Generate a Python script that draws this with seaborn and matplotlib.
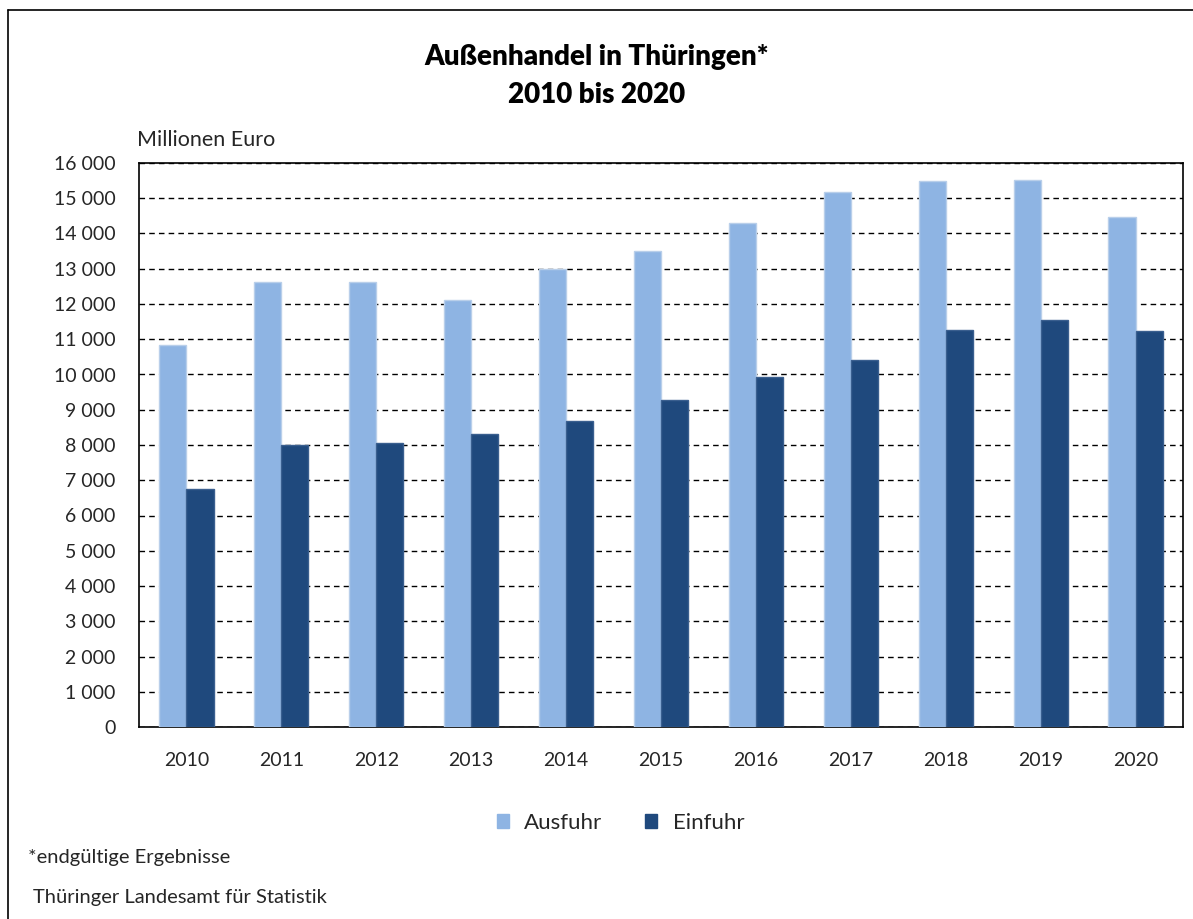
import pandas as pd
import numpy as np
import seaborn as sns
import matplotlib.pyplot as plt
from matplotlib.lines import Line2D
from matplotlib.ticker import FuncFormatter

# Daten (Millionen Euro)
jahre = ['2010', '2011', '2012', '2013', '2014', '2015', '2016', '2017', '2018', '2019', '2020']
ausfuhr = [10840, 12620, 12610, 12110, 12990, 13490, 14290, 15170, 15490, 15510, 14480]
einfuhr = [6750, 8000, 8050, 8310, 8680, 9280, 9930, 10400, 11260, 11560, 11220]

df = pd.DataFrame({'Jahr': jahre * 2,
                   'Wert': ausfuhr + einfuhr,
                   'Art': ['Ausfuhr'] * len(jahre) + ['Einfuhr'] * len(jahre)})

sns.set_style('white')
plt.rcParams['font.family'] = ['Lato', 'DejaVu Sans']

fig = plt.figure(figsize=(11.93, 9.19), dpi=100)
ax = fig.add_axes([139 / 1193, 1 - 727 / 919, 1044 / 1193, 564 / 919])

farben = {'Ausfuhr': '#8EB4E3', 'Einfuhr': '#1F497D'}
sns.barplot(data=df, x='Jahr', y='Wert', hue='Art', palette=farben, width=0.57,
            saturation=1, ax=ax, legend=False, linewidth=0, zorder=3)
for p in ax.patches:
    p.set_edgecolor('#B9CFEA' if p.get_facecolor()[0] > 0.4 else '#3A5F8F')
    p.set_linewidth(1)

ax.set_xlim(-0.5, len(jahre) - 0.5)
ax.set_ylim(0, 16000)
ax.set_yticks(np.arange(0, 16001, 1000))
ax.yaxis.set_major_formatter(FuncFormatter(lambda v, _: f'{int(v):,}'.replace(',', ' ')))
ax.grid(axis='y', linestyle=(0, (4, 3)), color='black', linewidth=1, zorder=0)
ax.grid(axis='x', visible=False)
for s in ax.spines.values():
    s.set_color('black')
    s.set_linewidth(1.2)
ax.tick_params(axis='y', direction='out', length=7, width=1, color='black', labelsize=14, pad=10)
ax.tick_params(axis='x', length=0, labelsize=14, pad=18)
ax.set_xlabel('')
ax.set_ylabel('')

fig.text(0.5, 1 - 57 / 919, 'Außenhandel in Thüringen*', ha='center', va='center',
         fontsize=20, fontweight='heavy', color='black')
fig.text(0.5, 1 - 95 / 919, '2010 bis 2020', ha='center', va='center',
         fontsize=20, fontweight='heavy', color='black')
fig.text(137 / 1193, 1 - 140 / 919, 'Millionen Euro', ha='left', va='center', fontsize=15.5)

handles = [plt.Rectangle((0, 0), 1, 1, color=farben[k]) for k in farben]
fig.legend(handles, list(farben), loc='center', bbox_to_anchor=(0.52, 1 - 823 / 919),
           ncol=2, frameon=False, fontsize=16, handlelength=0.55, handleheight=0.55,
           columnspacing=1.9, handletextpad=0.7)

fig.text(28 / 1193, 1 - 857 / 919, '*endgültige Ergebnisse', ha='left', va='center', fontsize=14.5)
fig.text(33 / 1193, 1 - 897 / 919, 'Thüringer Landesamt für Statistik', ha='left', va='center',
         fontsize=14.5)

# Rahmen oben und links
fig.add_artist(Line2D([8 / 1193, 8 / 1193], [0, 1 - 10 / 919], transform=fig.transFigure,
                      color='black', linewidth=1.2))
fig.add_artist(Line2D([8 / 1193, 1], [1 - 10 / 919, 1 - 10 / 919], transform=fig.transFigure,
                      color='black', linewidth=1.2))

fig.savefig('out.png', dpi=100)
